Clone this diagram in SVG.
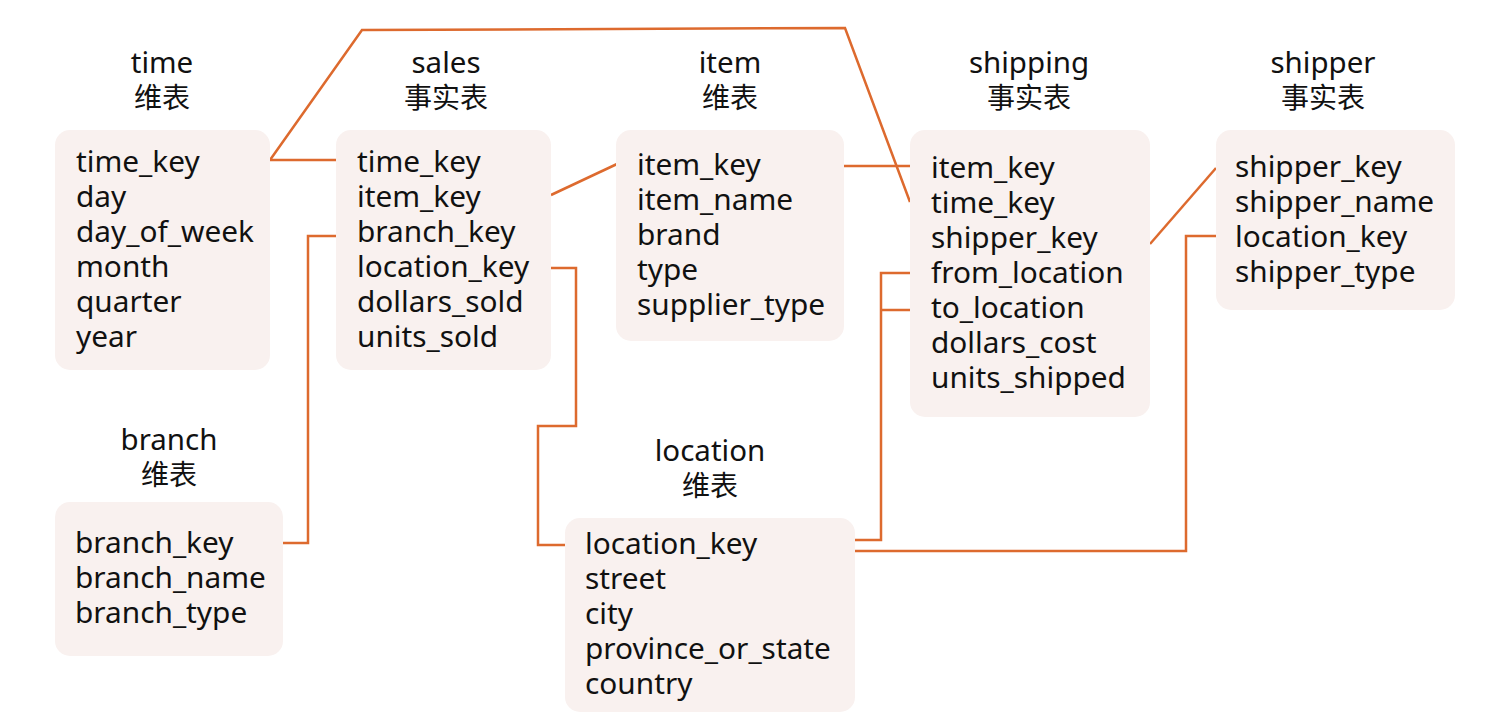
<svg xmlns="http://www.w3.org/2000/svg" width="1488" height="722" viewBox="0 0 1488 722">
<style>
.box{fill:#f9f1ef;}
.t{font-family:"Noto Sans","Noto Sans CJK SC",sans-serif;font-size:29.8px;fill:#111;}
.h{font-family:"Noto Sans","Noto Sans CJK SC",sans-serif;font-size:29.5px;fill:#111;text-anchor:middle;}
.z{font-family:"Noto Sans CJK SC",sans-serif;font-size:28px;fill:#111;text-anchor:middle;}
.c{fill:none;stroke:#dd6a2e;stroke-width:2.5;}
</style>
<rect width="1488" height="722" fill="#fff"/>
<g id="connectors">
<polyline class="c" points="270,160 336,160"/>
<polyline class="c" points="270,160 362,30 845,28 910,202"/>
<polyline class="c" points="551,195 617,164"/>
<polyline class="c" points="336,236 308,236 308,543 283,543"/>
<polyline class="c" points="551,268 576,268 576,426 538,426 538,545 565,545"/>
<polyline class="c" points="844,166 910,166"/>
<polyline class="c" points="1150,244 1216,168"/>
<polyline class="c" points="910,273 881,273 881,540 855,540"/>
<polyline class="c" points="910,310 881,310"/>
<polyline class="c" points="1216,236 1186,236 1186,551 855,551"/>
</g>
<g id="time">
<text class="h" x="162" y="73">time</text>
<text class="z" x="162" y="108">维表</text>
<rect class="box" x="55" y="130" width="215" height="240" rx="15"/>
<text class="t" x="76" y="172">time_key</text>
<text class="t" x="76" y="207">day</text>
<text class="t" x="76" y="242">day_of_week</text>
<text class="t" x="76" y="277">month</text>
<text class="t" x="76" y="312">quarter</text>
<text class="t" x="76" y="347">year</text>
</g>
<g id="sales">
<text class="h" x="446" y="73">sales</text>
<text class="z" x="446" y="108">事实表</text>
<rect class="box" x="336" y="130" width="215" height="240" rx="15"/>
<text class="t" x="357" y="172">time_key</text>
<text class="t" x="357" y="207">item_key</text>
<text class="t" x="357" y="242">branch_key</text>
<text class="t" x="357" y="277">location_key</text>
<text class="t" x="357" y="312">dollars_sold</text>
<text class="t" x="357" y="347">units_sold</text>
</g>
<g id="item">
<text class="h" x="730" y="73">item</text>
<text class="z" x="730" y="108">维表</text>
<rect class="box" x="616" y="130" width="228" height="211" rx="15"/>
<text class="t" x="637" y="175">item_key</text>
<text class="t" x="637" y="210">item_name</text>
<text class="t" x="637" y="245">brand</text>
<text class="t" x="637" y="280">type</text>
<text class="t" x="637" y="315">supplier_type</text>
</g>
<g id="shipping">
<text class="h" x="1029" y="73">shipping</text>
<text class="z" x="1029" y="108">事实表</text>
<rect class="box" x="910" y="130" width="240" height="287" rx="15"/>
<text class="t" x="931" y="178">item_key</text>
<text class="t" x="931" y="213">time_key</text>
<text class="t" x="931" y="248">shipper_key</text>
<text class="t" x="931" y="283">from_location</text>
<text class="t" x="931" y="318">to_location</text>
<text class="t" x="931" y="353">dollars_cost</text>
<text class="t" x="931" y="388">units_shipped</text>
</g>
<g id="shipper">
<text class="h" x="1323" y="73">shipper</text>
<text class="z" x="1323" y="108">事实表</text>
<rect class="box" x="1216" y="130" width="239" height="180" rx="15"/>
<text class="t" x="1235" y="177">shipper_key</text>
<text class="t" x="1235" y="212">shipper_name</text>
<text class="t" x="1235" y="247">location_key</text>
<text class="t" x="1235" y="282">shipper_type</text>
</g>
<g id="branch">
<text class="h" x="169" y="450">branch</text>
<text class="z" x="169" y="485">维表</text>
<rect class="box" x="55" y="502" width="228" height="154" rx="15"/>
<text class="t" x="75" y="553">branch_key</text>
<text class="t" x="75" y="588">branch_name</text>
<text class="t" x="75" y="623">branch_type</text>
</g>
<g id="location">
<text class="h" x="710" y="461">location</text>
<text class="z" x="710" y="496">维表</text>
<rect class="box" x="565" y="518" width="290" height="194" rx="15"/>
<text class="t" x="585" y="554">location_key</text>
<text class="t" x="585" y="589">street</text>
<text class="t" x="585" y="624">city</text>
<text class="t" x="585" y="659">province_or_state</text>
<text class="t" x="585" y="694">country</text>
</g>
</svg>
